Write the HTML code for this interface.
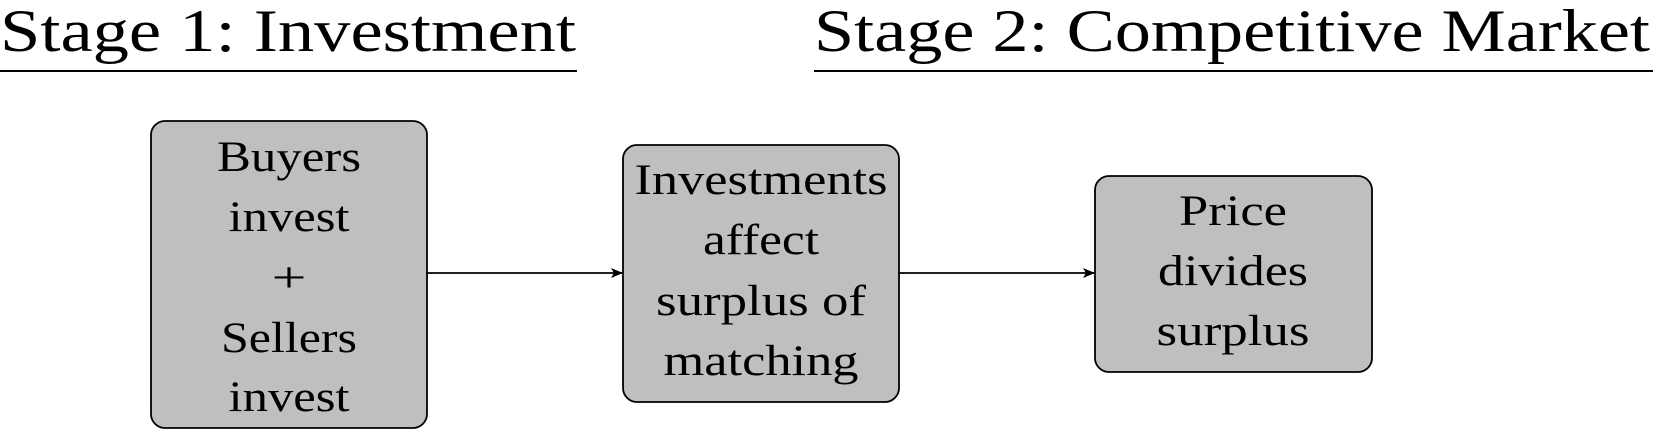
<!DOCTYPE html>
<html><head><meta charset="utf-8"><style>
html,body{margin:0;padding:0;background:#fff;}
svg{display:block;}
text{font-family:"Liberation Serif",serif;fill:#000;}
</style></head><body>
<svg width="1653" height="429" viewBox="0 0 1653 429" xmlns="http://www.w3.org/2000/svg">
<defs><marker id="a" markerWidth="12" markerHeight="10" refX="11" refY="5" orient="auto" markerUnits="userSpaceOnUse"><path d="M0,0 L12,5 L0,10 L3,5 Z" fill="#000"/></marker></defs>
<text x="0" y="51" font-size="60" textLength="576" lengthAdjust="spacingAndGlyphs">Stage 1: Investment</text>
<line x1="0" y1="71" x2="577" y2="71" stroke="#000" stroke-width="2"/>
<text x="814" y="51" font-size="60" textLength="836" lengthAdjust="spacingAndGlyphs">Stage 2: Competitive Market</text>
<line x1="814" y1="71" x2="1653" y2="71" stroke="#000" stroke-width="2"/>
<rect x="151" y="121" width="276" height="307" rx="14" fill="#bfbfbf" stroke="#000" stroke-width="1.8"/>
<rect x="623" y="145" width="276" height="257" rx="14" fill="#bfbfbf" stroke="#000" stroke-width="1.8"/>
<rect x="1095" y="176" width="277" height="196" rx="14" fill="#bfbfbf" stroke="#000" stroke-width="1.8"/>
<g font-size="43" text-anchor="middle" lengthAdjust="spacingAndGlyphs">
<text x="289" y="171" textLength="144" lengthAdjust="spacingAndGlyphs">Buyers</text>
<text x="289" y="231" textLength="121" lengthAdjust="spacingAndGlyphs">invest</text>
<text x="289" y="292" textLength="35" lengthAdjust="spacingAndGlyphs">+</text>
<text x="289" y="352" textLength="136" lengthAdjust="spacingAndGlyphs">Sellers</text>
<text x="289" y="411" textLength="121" lengthAdjust="spacingAndGlyphs">invest</text>
<text x="761" y="194" textLength="253" lengthAdjust="spacingAndGlyphs">Investments</text>
<text x="761" y="254" textLength="116" lengthAdjust="spacingAndGlyphs">affect</text>
<text x="761" y="315" textLength="210" lengthAdjust="spacingAndGlyphs">surplus of</text>
<text x="761" y="375" textLength="195" lengthAdjust="spacingAndGlyphs">matching</text>
<text x="1233" y="225" textLength="108" lengthAdjust="spacingAndGlyphs">Price</text>
<text x="1233" y="285" textLength="150" lengthAdjust="spacingAndGlyphs">divides</text>
<text x="1233" y="345" textLength="153" lengthAdjust="spacingAndGlyphs">surplus</text>
</g>
<line x1="427" y1="273" x2="622" y2="273" stroke="#000" stroke-width="1.8" marker-end="url(#a)"/>
<line x1="899" y1="273" x2="1094" y2="273" stroke="#000" stroke-width="1.8" marker-end="url(#a)"/>
</svg>
</body></html>
